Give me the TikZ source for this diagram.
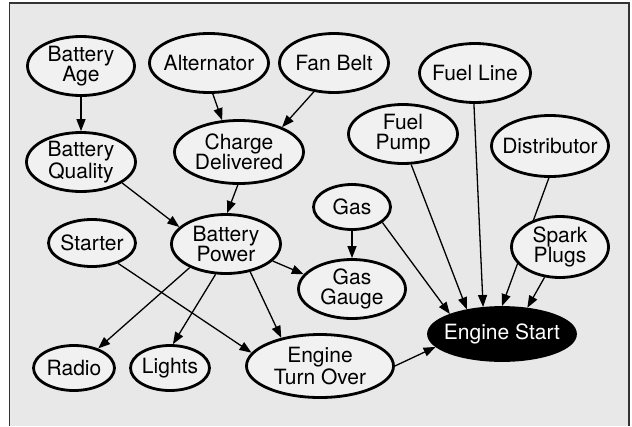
\documentclass[tikz,border=0pt]{standalone}
\usepackage{fontspec}
\setmainfont{TeX Gyre Heros}
\usetikzlibrary{shapes.geometric,arrows.meta}
\pgfdeclarelayer{bg}
\pgfdeclarelayer{edges}
\pgfsetlayers{bg,edges,main}
\definecolor{paper}{HTML}{E8E8E8}
\definecolor{nodefill}{HTML}{F1F1F1}
\begin{document}
\begin{tikzpicture}[x=1pt,y=-1pt,
  var/.style={ellipse, draw=black, line width=2.8pt, fill=nodefill, inner xsep=-12pt, inner ysep=0pt, align=center, font=\fontsize{21}{20}\selectfont},
  goal/.style={var, fill=black, text=white},
  edge/.style={line width=1.3pt, -{Triangle[length=12pt,width=9pt]}}]
\useasboundingbox (0,0) rectangle (632,426);
\begin{pgfonlayer}{bg}
\fill[white] (0,0) rectangle (632,426);
\fill[paper] (9.5,3) rectangle (629,426);
\draw[line width=1.5pt, black!80] (9.5,426) -- (9.5,3) -- (629,3) -- (629,426);
\end{pgfonlayer}
\node[var, minimum width=107pt, minimum height=59pt] (ba) at (81,66) {Battery\\Age};
\node[var, minimum width=119pt, minimum height=59pt] (alt) at (209,63) {Alternator};
\node[var, minimum width=109pt, minimum height=59pt] (fan) at (334,63) {Fan Belt};
\node[var, minimum width=111pt, minimum height=59pt] (fl) at (475,73) {Fuel Line};
\node[var, minimum width=109pt, minimum height=59pt] (fp) at (403,134) {Fuel\\Pump};
\node[var, minimum width=117pt, minimum height=61pt] (dis) at (550,146) {Distributor};
\node[var, minimum width=109pt, minimum height=59pt] (bq) at (81,162) {Battery\\Quality};
\node[var, minimum width=129pt, minimum height=63pt] (cd) at (239,152) {Charge\\Delivered};
\node[var, minimum width=77pt, minimum height=45pt] (gas) at (352,207) {Gas};
\node[var, minimum width=107pt, minimum height=59pt] (gg) at (352,289) {Gas\\Gauge};
\node[var, minimum width=97pt, minimum height=61pt] (sp) at (560,247) {Spark\\Plugs};
\node[goal, minimum width=147pt, minimum height=53pt] (es) at (502,334) {Engine Start};
\node[var, minimum width=87pt, minimum height=47pt] (st) at (92,243) {Starter};
\node[var, minimum width=109pt, minimum height=59pt] (bp) at (226,244) {Battery\\Power};
\node[var, minimum width=81pt, minimum height=45pt] (ra) at (74,368) {Radio};
\node[var, minimum width=79pt, minimum height=45pt] (li) at (170,368) {Lights};
\node[var, minimum width=147pt, minimum height=63pt] (eto) at (320,366) {Engine\\Turn Over};
\begin{pgfonlayer}{edges}
\draw[edge] (ba.south) -- (bq.north);
\draw[edge] (alt.-83) -- (cd.118);
\draw[edge] (fan.-125) -- (cd.30);
\draw[edge] (bq.-27) -- (bp.160);
\draw[edge] (cd.-92) -- (bp.88);
\draw[edge] (bp.-20) -- (gg.163);
\draw[edge] (gas.south) -- (gg.north);
\draw[edge] (bp.213) -- (ra.39);
\draw[edge] (bp.251) -- (li.83);
\draw[edge] (bp.-49) -- (eto.144);
\draw[edge] (st.-38) -- (eto.169);
\draw[edge] (eto.east) -- (es.191);
\draw[edge] (gas.-27) -- (es.159);
\draw[edge] (fp.-75) -- (es.145);
\draw[edge] (fl.-92) -- (es.125);
\draw[edge] (dis.-92) -- (es.90);
\draw[edge] (sp.-117) -- (es.46);
\end{pgfonlayer}
\end{tikzpicture}
\end{document}
